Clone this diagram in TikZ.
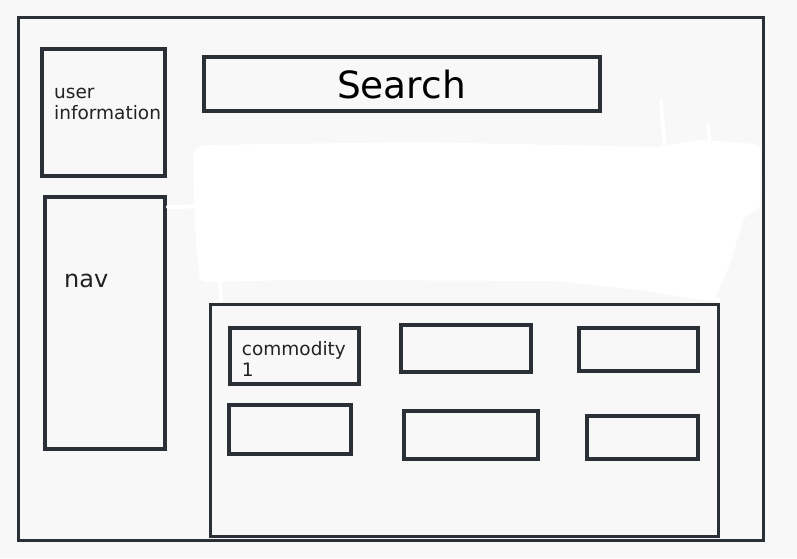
\documentclass[tikz,border=0pt]{standalone}
\usepackage{fontspec}
\setmainfont{DejaVu Sans}
\usetikzlibrary{fit}
\definecolor{bgpaper}{HTML}{F8F8F8}
\definecolor{inkline}{HTML}{2B3036}
\definecolor{inktext}{HTML}{222222}
\tikzset{
  frame/.style={draw=inkline, line width=3pt, inner sep=0pt},
  wbox/.style={draw=inkline, line width=4pt, inner sep=0pt},
  small/.style={text=inktext, inner sep=0pt, align=left, font=\fontsize{18.5}{21.7}\selectfont},
}
\begin{document}
\begin{tikzpicture}[x=1pt,y=-1pt,line join=miter]
  % paper
  \fill[bgpaper] (0,0) rectangle (797,558);
  \useasboundingbox (0,0) rectangle (797,558);

  % outer page
  \node[frame, fit={(18.5,17.3) (763.3,540.7)}] (page) {};

  % left column
  \node[wbox, fit={(42,49) (165,176)}] (user) {};
  \node[small, anchor=base west] (usertext) at (54,119.7) {user\\information};
  \node[wbox, fit={(44.7,196.7) (164.7,449)}] (nav) {};
  \node[text=inktext, inner sep=0pt, anchor=base west, font=\fontsize{24}{28}\selectfont] (navtext) at (64,287) {nav};

  % search bar
  \node[wbox, fit={(204,56.7) (600.3,111)}] (search) {};
  \node[text=black, inner sep=0pt, anchor=base, font=\fontsize{37.5}{42}\selectfont] (searchtext) at (401.5,98.3) {Search};

  % erased area
  \fill[white, rounded corners=6pt] (203,145) -- (420,142) -- (655,147) -- (700,140) -- (745,143)
    -- (761,145) -- (760,210) -- (745,215) -- (729,267) -- (713,302) -- (640,290)
    -- (555,281) -- (300,280) -- (200,282) -- (195,230) -- (193,150) -- cycle;
  \draw[white, line width=4pt, line cap=round] (168,207) -- (230,206);
  \draw[white, line width=4pt, line cap=round] (661,102) -- (665,150);
  \draw[white, line width=4pt, line cap=round] (708,125) -- (712,160);
  \draw[white, line width=4pt, line cap=round] (220,280) -- (221,300);
  \draw[white, line width=4pt, line cap=round] (650,275) -- (718,300);

  % goods area
  \node[frame, fit={(210,304) (718.5,536.8)}] (goods) {};
  \node[wbox, fit={(230,327.7) (359.3,384)}] (item1) {};
  \node[small, anchor=base west] (item1text) at (241.7,376.7) {commodity\\1};
  \node[wbox, fit={(401.3,325.3) (530.7,372.3)}] (item2) {};
  \node[wbox, fit={(578.7,328) (698.3,371.3)}] (item3) {};
  \node[wbox, fit={(228.7,405.3) (350.7,454.3)}] (item4) {};
  \node[wbox, fit={(404,410.7) (538.3,458.7)}] (item5) {};
  \node[wbox, fit={(586.7,416) (698.3,459.3)}] (item6) {};
\end{tikzpicture}
\end{document}
